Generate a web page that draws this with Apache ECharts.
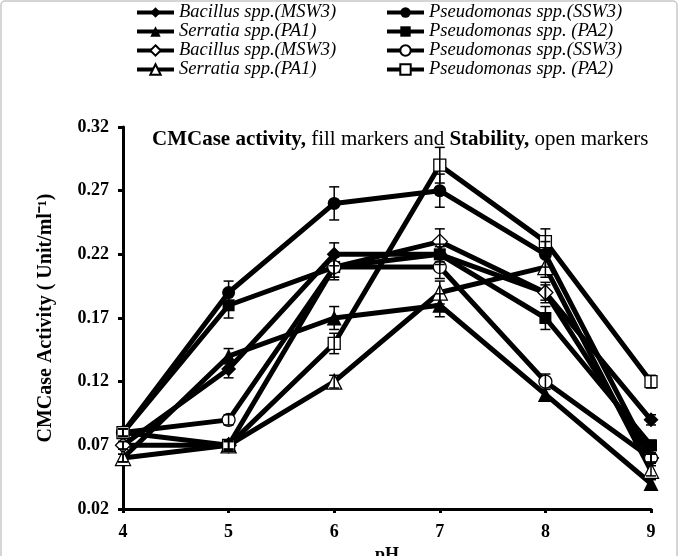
<!DOCTYPE html>
<html>
<head>
<meta charset="utf-8">
<script src="https://cdn.jsdelivr.net/npm/echarts@6/dist/echarts.min.js"></script>
<style>
  html, body { margin: 0; padding: 0; background: #fff; }
  #chart { width: 678px; height: 556px; }
</style>
</head>
<body>
<div id="chart"></div>
<script>
// pH values on the x axis
var ph = [4, 5, 6, 7, 8, 9];
var yTicks = [0.02, 0.07, 0.12, 0.17, 0.22, 0.27, 0.32];

// CMCase activity (filled markers)
var bacillusAct = [0.07, 0.13, 0.22, 0.22, 0.19, 0.09];
var pseudoSSW3Act = [0.08, 0.19, 0.26, 0.27, 0.22, 0.06];
var serratiaAct = [0.06, 0.14, 0.17, 0.18, 0.11, 0.04];
var pseudoPA2Act = [0.08, 0.18, 0.21, 0.22, 0.17, 0.07];

// stability (open markers)
var bacillusStab = [0.07, 0.07, 0.21, 0.23, 0.19, 0.06];
var pseudoSSW3Stab = [0.08, 0.09, 0.21, 0.21, 0.12, 0.06];
var serratiaStab = [0.06, 0.07, 0.12, 0.19, 0.21, 0.05];
var pseudoPA2Stab = [0.08, 0.07, 0.15, 0.29, 0.23, 0.12];

// error bars (+/-)
var bacillusActErr = [0.003, 0.007, 0.009, 0.006, 0.006, 0.004];
var pseudoSSW3ActErr = [0.003, 0.009, 0.013, 0.013, 0.01, 0.004];
var serratiaActErr = [0.003, 0.006, 0.009, 0.009, 0.004, 0.003];
var pseudoPA2ActErr = [0.003, 0.01, 0.01, 0.008, 0.009, 0.004];
var bacillusStabErr = [0.003, 0.003, 0.008, 0.01, 0.008, 0.003];
var pseudoSSW3StabErr = [0.003, 0.004, 0.008, 0.009, 0.006, 0.004];
var serratiaStabErr = [0.003, 0.003, 0.005, 0.009, 0.008, 0.004];
var pseudoPA2StabErr = [0.003, 0.004, 0.008, 0.014, 0.01, 0.005];

var font = 'Liberation Serif';

var defs = [
  { name: 'Bacillus spp.(MSW3)', data: bacillusAct, err: bacillusActErr, symbol: 'diamond', open: false },
  { name: 'Pseudomonas spp.(SSW3)', data: pseudoSSW3Act, err: pseudoSSW3ActErr, symbol: 'circle', open: false },
  { name: 'Serratia spp.(PA1)', data: serratiaAct, err: serratiaActErr, symbol: 'triangle', open: false },
  { name: 'Pseudomonas spp. (PA2)', data: pseudoPA2Act, err: pseudoPA2ActErr, symbol: 'rect', open: false },
  { name: 'Bacillus spp.(MSW3) ', data: bacillusStab, err: bacillusStabErr, symbol: 'diamond', open: true },
  { name: 'Pseudomonas spp.(SSW3) ', data: pseudoSSW3Stab, err: pseudoSSW3StabErr, symbol: 'circle', open: true },
  { name: 'Serratia spp.(PA1) ', data: serratiaStab, err: serratiaStabErr, symbol: 'triangle', open: true },
  { name: 'Pseudomonas spp. (PA2) ', data: pseudoPA2Stab, err: pseudoPA2StabErr, symbol: 'rect', open: true }
];

var symbolSizes = { circle: 13, rect: 12, diamond: 15, triangle: 15 };

function errorBars(d) {
  return {
    type: 'custom',
    z: 3,
    silent: true,
    data: ph.map(function (x, i) { return [x, d.data[i] - d.err[i], d.data[i] + d.err[i]]; }),
    renderItem: function (params, api) {
      var lo = api.coord([api.value(0), api.value(1)]);
      var hi = api.coord([api.value(0), api.value(2)]);
      var w = 5;
      var st = { stroke: '#000', lineWidth: 1.5 };
      return {
        type: 'group',
        children: [
          { type: 'line', shape: { x1: lo[0], y1: lo[1], x2: hi[0], y2: hi[1] }, style: st },
          { type: 'line', shape: { x1: lo[0] - w, y1: lo[1], x2: lo[0] + w, y2: lo[1] }, style: st },
          { type: 'line', shape: { x1: hi[0] - w, y1: hi[1], x2: hi[0] + w, y2: hi[1] }, style: st }
        ]
      };
    }
  };
}

var series = [];
defs.forEach(function (d) {
  series.push({
    name: d.name,
    type: 'line',
    z: 2,
    data: ph.map(function (x, i) { return [x, d.data[i]]; }),
    symbol: d.symbol,
    symbolSize: symbolSizes[d.symbol],
    showAllSymbol: true,
    lineStyle: { color: '#000', width: 5 },
    itemStyle: { color: d.open ? '#fff' : '#000', borderColor: '#000', borderWidth: d.open ? 1.3 : 0 }
  });
  series.push(errorBars(d));
});

var legendText = { fontFamily: font, fontStyle: 'italic', fontSize: 18.5, lineHeight: 19, color: '#000' };

var option = {
  animation: false,
  backgroundColor: '#fff',
  grid: { left: 123, right: 27, top: 127, bottom: 47, outerBoundsMode: 'none' },
  // light frame round the figure, bottom edge cut off like the source
  graphic: [{
    type: 'rect',
    shape: { x: 1, y: 1, width: 676, height: 570, r: 4 },
    style: { fill: 'none', stroke: '#c8c8c8', lineWidth: 1.5 },
    silent: true
  }],
  title: {
    left: 152,
    top: 129,
    padding: 0,
    text: '{b|CMCase activity,} fill markers and {b|Stability,} open markers',
    textStyle: {
      fontFamily: font, fontSize: 21, fontWeight: 'normal', color: '#000',
      rich: { b: { fontFamily: font, fontSize: 21, fontWeight: 'bold', color: '#000' } }
    }
  },
  legend: [
    {
      left: 135, top: 3, padding: 0, orient: 'vertical', itemGap: 0, itemWidth: 37, itemHeight: 13,
      lineStyle: { width: 4 },
      textStyle: legendText,
      data: [defs[0].name, defs[2].name, defs[4].name, defs[6].name]
    },
    {
      left: 385, top: 3, padding: 0, orient: 'vertical', itemGap: 0, itemWidth: 37, itemHeight: 13,
      lineStyle: { width: 4 },
      textStyle: legendText,
      data: [defs[1].name, defs[3].name, defs[5].name, defs[7].name]
    }
  ],
  xAxis: {
    type: 'value',
    min: 4, max: 9, interval: 1,
    name: 'pH', nameLocation: 'middle', nameGap: 33,
    nameTextStyle: { fontFamily: font, fontSize: 18, fontWeight: 'bold', color: '#000' },
    axisLine: { lineStyle: { color: '#000', width: 3 } },
    axisTick: { length: 4, lineStyle: { color: '#000', width: 3 } },
    axisLabel: { fontFamily: font, fontSize: 18, fontWeight: 'bold', color: '#000', margin: 14 },
    splitLine: { show: false }
  },
  yAxis: {
    type: 'value',
    min: 0.02, max: 0.32,
    name: 'CMCase Activity ( Unit/ml⁻¹)', nameLocation: 'middle', nameGap: 67,
    nameTextStyle: { fontFamily: font, fontSize: 20, fontWeight: 'bold', color: '#000' },
    axisLine: { show: true, lineStyle: { color: '#000', width: 3 } },
    axisTick: { show: true, length: 5, customValues: yTicks, lineStyle: { color: '#000', width: 3 } },
    axisLabel: {
      fontFamily: font, fontSize: 18, fontWeight: 'bold', color: '#000', margin: 14,
      customValues: yTicks,
      formatter: function (v) { return v.toFixed(2); }
    },
    splitLine: { show: false }
  },
  series: series
};

var chart = echarts.init(document.getElementById('chart'));
chart.setOption(option);
</script>
</body>
</html>
